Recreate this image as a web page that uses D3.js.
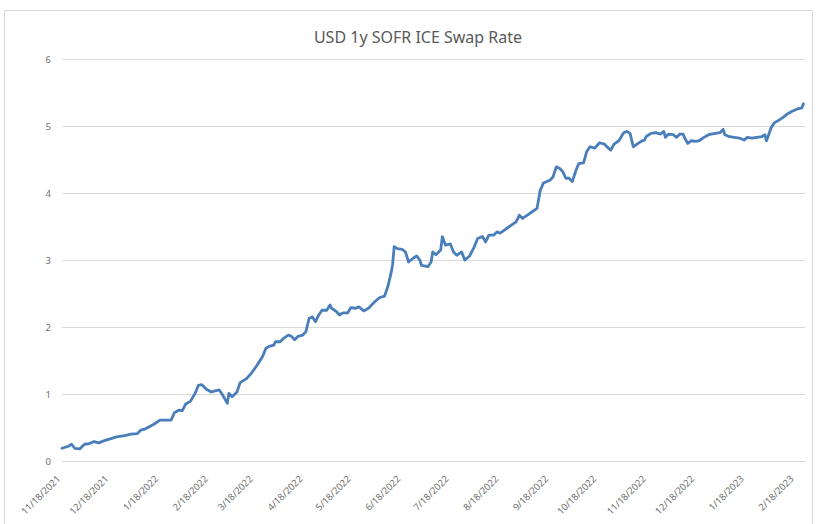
<!DOCTYPE html>
<html lang="en">
<head>
  <meta charset="UTF-8" />
  <title>USD 1y SOFR ICE Swap Rate</title>
  <script src="https://d3js.org/d3.v7.min.js"></script>
  <style>
    body {
      margin: 0;
      background: #fff;
      font-family: "Noto Sans", sans-serif;
    }
    svg {
      display: block;
    }
  </style>
</head>
<body>
  <svg width="816" height="524"></svg>

  <script>
    // Data (date, rate in %)
    const dates = [
      "2021-11-18","2021-11-22","2021-11-24","2021-11-26","2021-11-29","2021-12-02","2021-12-05","2021-12-08",
      "2021-12-11","2021-12-14","2021-12-18","2021-12-22","2021-12-27","2021-12-31","2022-01-04","2022-01-06",
      "2022-01-09","2022-01-12","2022-01-15","2022-01-18","2022-01-25","2022-01-27","2022-01-30","2022-02-01",
      "2022-02-03","2022-02-06","2022-02-09","2022-02-11","2022-02-13","2022-02-16","2022-02-19","2022-02-22",
      "2022-02-24","2022-02-26","2022-03-01","2022-03-02","2022-03-04","2022-03-07","2022-03-09","2022-03-13",
      "2022-03-16","2022-03-19","2022-03-23","2022-03-25","2022-03-27","2022-03-30","2022-03-31","2022-04-03",
      "2022-04-05","2022-04-08","2022-04-10","2022-04-12","2022-04-14","2022-04-17","2022-04-19","2022-04-21",
      "2022-04-23","2022-04-25","2022-04-27","2022-04-29","2022-05-02","2022-05-04","2022-05-05","2022-05-08",
      "2022-05-10","2022-05-12","2022-05-15","2022-05-17","2022-05-20","2022-05-22","2022-05-25","2022-05-28",
      "2022-06-01","2022-06-04","2022-06-07","2022-06-09","2022-06-11","2022-06-12","2022-06-13","2022-06-15",
      "2022-06-18","2022-06-20","2022-06-22","2022-06-25","2022-06-27","2022-06-29","2022-06-30","2022-07-04",
      "2022-07-06","2022-07-07","2022-07-09","2022-07-12","2022-07-13","2022-07-15","2022-07-18","2022-07-20",
      "2022-07-22","2022-07-25","2022-07-27","2022-07-30","2022-08-02","2022-08-04","2022-08-07","2022-08-09",
      "2022-08-11","2022-08-14","2022-08-16","2022-08-18","2022-08-22","2022-08-25","2022-08-28","2022-08-30",
      "2022-09-01","2022-09-04","2022-09-07","2022-09-10","2022-09-12","2022-09-14","2022-09-18","2022-09-20",
      "2022-09-22","2022-09-24","2022-09-26","2022-09-28","2022-09-30","2022-10-02","2022-10-04","2022-10-06",
      "2022-10-09","2022-10-11","2022-10-13","2022-10-16","2022-10-19","2022-10-22","2022-10-24","2022-10-26",
      "2022-10-28","2022-10-31","2022-11-03","2022-11-05","2022-11-07","2022-11-09","2022-11-12","2022-11-14",
      "2022-11-16","2022-11-17","2022-11-20","2022-11-23","2022-11-26","2022-11-28","2022-11-29","2022-12-01",
      "2022-12-04","2022-12-06","2022-12-08","2022-12-10","2022-12-11","2022-12-13","2022-12-15","2022-12-18",
      "2022-12-20","2022-12-23","2022-12-26","2022-12-30","2023-01-02","2023-01-04","2023-01-05","2023-01-08",
      "2023-01-11","2023-01-14","2023-01-17","2023-01-19","2023-01-22","2023-01-25","2023-01-28","2023-01-30",
      "2023-01-31","2023-02-03","2023-02-05","2023-02-08","2023-02-11","2023-02-13","2023-02-16","2023-02-20",
      "2023-02-22","2023-02-23"
    ];
    const rates = [
      0.19,0.22,0.25,0.19,0.18,0.25,0.26,0.29,
      0.27,0.30,0.33,0.36,0.38,0.40,0.41,0.46,
      0.48,0.52,0.56,0.61,0.61,0.72,0.76,0.75,
      0.85,0.89,1.01,1.13,1.14,1.07,1.03,1.05,
      1.06,0.99,0.86,1.01,0.96,1.03,1.17,1.23,
      1.31,1.41,1.56,1.68,1.71,1.73,1.78,1.78,
      1.83,1.88,1.86,1.81,1.86,1.88,1.93,2.13,
      2.15,2.08,2.18,2.25,2.25,2.33,2.28,2.23,
      2.18,2.21,2.21,2.29,2.28,2.30,2.24,2.28,
      2.38,2.44,2.46,2.60,2.80,2.93,3.20,3.17,
      3.16,3.12,2.97,3.03,3.06,3.00,2.92,2.90,
      2.97,3.12,3.08,3.15,3.35,3.22,3.24,3.12,
      3.07,3.12,3.00,3.06,3.20,3.32,3.35,3.27,
      3.37,3.37,3.42,3.40,3.47,3.52,3.57,3.67,
      3.62,3.67,3.72,3.77,4.04,4.15,4.19,4.24,
      4.39,4.37,4.32,4.22,4.22,4.17,4.32,4.44,
      4.45,4.62,4.69,4.67,4.75,4.73,4.68,4.64,
      4.73,4.78,4.90,4.92,4.89,4.69,4.74,4.77,
      4.79,4.84,4.89,4.90,4.88,4.92,4.83,4.88,
      4.87,4.83,4.88,4.88,4.82,4.74,4.78,4.77,
      4.78,4.83,4.87,4.89,4.90,4.95,4.87,4.84,
      4.83,4.82,4.79,4.83,4.82,4.83,4.84,4.87,
      4.78,4.98,5.05,5.09,5.14,5.18,5.22,5.26,
      5.27,5.33
    ];
    const yTicks = [0, 1, 2, 3, 4, 5, 6];
    const xTickLabels = [
      "11/18/2021","12/18/2021","1/18/2022","2/18/2022","3/18/2022","4/18/2022","5/18/2022","6/18/2022",
      "7/18/2022","8/18/2022","9/18/2022","10/18/2022","11/18/2022","12/18/2022","1/18/2023","2/18/2023"
    ];
    const xStart = "2021-11-18";
    const xEnd = "2023-02-24";

    const svg = d3.select("svg");
    const parseIso = d3.timeParse("%Y-%m-%d");
    const parseLabel = d3.timeParse("%m/%d/%Y");

    const margin = { left: 62, right: 11, top: 59, bottom: 63 };
    const width = +svg.attr("width");
    const height = +svg.attr("height");

    const data = dates.map((d, i) => ({ date: parseIso(d), value: rates[i] }));

    const x = d3.scaleTime()
      .domain([parseIso(xStart), parseIso(xEnd)])
      .range([margin.left, width - margin.right]);

    const y = d3.scaleLinear()
      .domain([0, 6])
      .range([height - margin.bottom, margin.top]);

    // chart frame
    svg.append("rect")
      .attr("x", 4.5)
      .attr("y", 10.5)
      .attr("width", 808)
      .attr("height", 530)
      .attr("fill", "#fff")
      .attr("stroke", "#d9d9d9");

    // title
    svg.append("text")
      .attr("x", 418)
      .attr("y", 43)
      .attr("text-anchor", "middle")
      .attr("font-size", "16px")
      .attr("fill", "#595959")
      .text("USD 1y SOFR ICE Swap Rate");

    // gridlines + y labels
    const yAxis = d3.axisLeft(y)
      .tickValues(yTicks)
      .tickSize(-(width - margin.left - margin.right))
      .tickPadding(11)
      .tickFormat(d3.format("d"));

    svg.append("g")
      .attr("transform", `translate(${margin.left},0)`)
      .call(yAxis)
      .call(g => g.select(".domain").remove())
      .call(g => g.selectAll(".tick line").attr("stroke", "#d9d9d9"))
      .call(g => g.selectAll(".tick text")
        .attr("fill", "#6f6f6f")
        .attr("font-size", "9.5px")
        .attr("font-family", "Noto Sans, sans-serif"));

    // x axis
    const xAxis = d3.axisBottom(x)
      .tickValues(xTickLabels.map(parseLabel))
      .tickSize(0)
      .tickFormat(d3.timeFormat("%-m/%-d/%Y"));

    svg.append("g")
      .attr("transform", `translate(0,${height - margin.bottom})`)
      .call(xAxis)
      .call(g => g.select(".domain").attr("stroke", "#d9d9d9"))
      .call(g => g.selectAll(".tick text")
        .attr("fill", "#6f6f6f")
        .attr("font-size", "9.5px")
        .attr("font-family", "Noto Sans, sans-serif")
        .attr("text-anchor", "end")
        .attr("dy", "0.35em")
        .attr("transform", "translate(-6,14) rotate(-45)"));

    // the series
    const line = d3.line()
      .x(d => x(d.date))
      .y(d => y(d.value));

    svg.append("path")
      .datum(data)
      .attr("fill", "none")
      .attr("stroke", "#4a7ebb")
      .attr("stroke-width", 2.8)
      .attr("stroke-linejoin", "round")
      .attr("stroke-linecap", "round")
      .attr("d", line);
  </script>
</body>
</html>
